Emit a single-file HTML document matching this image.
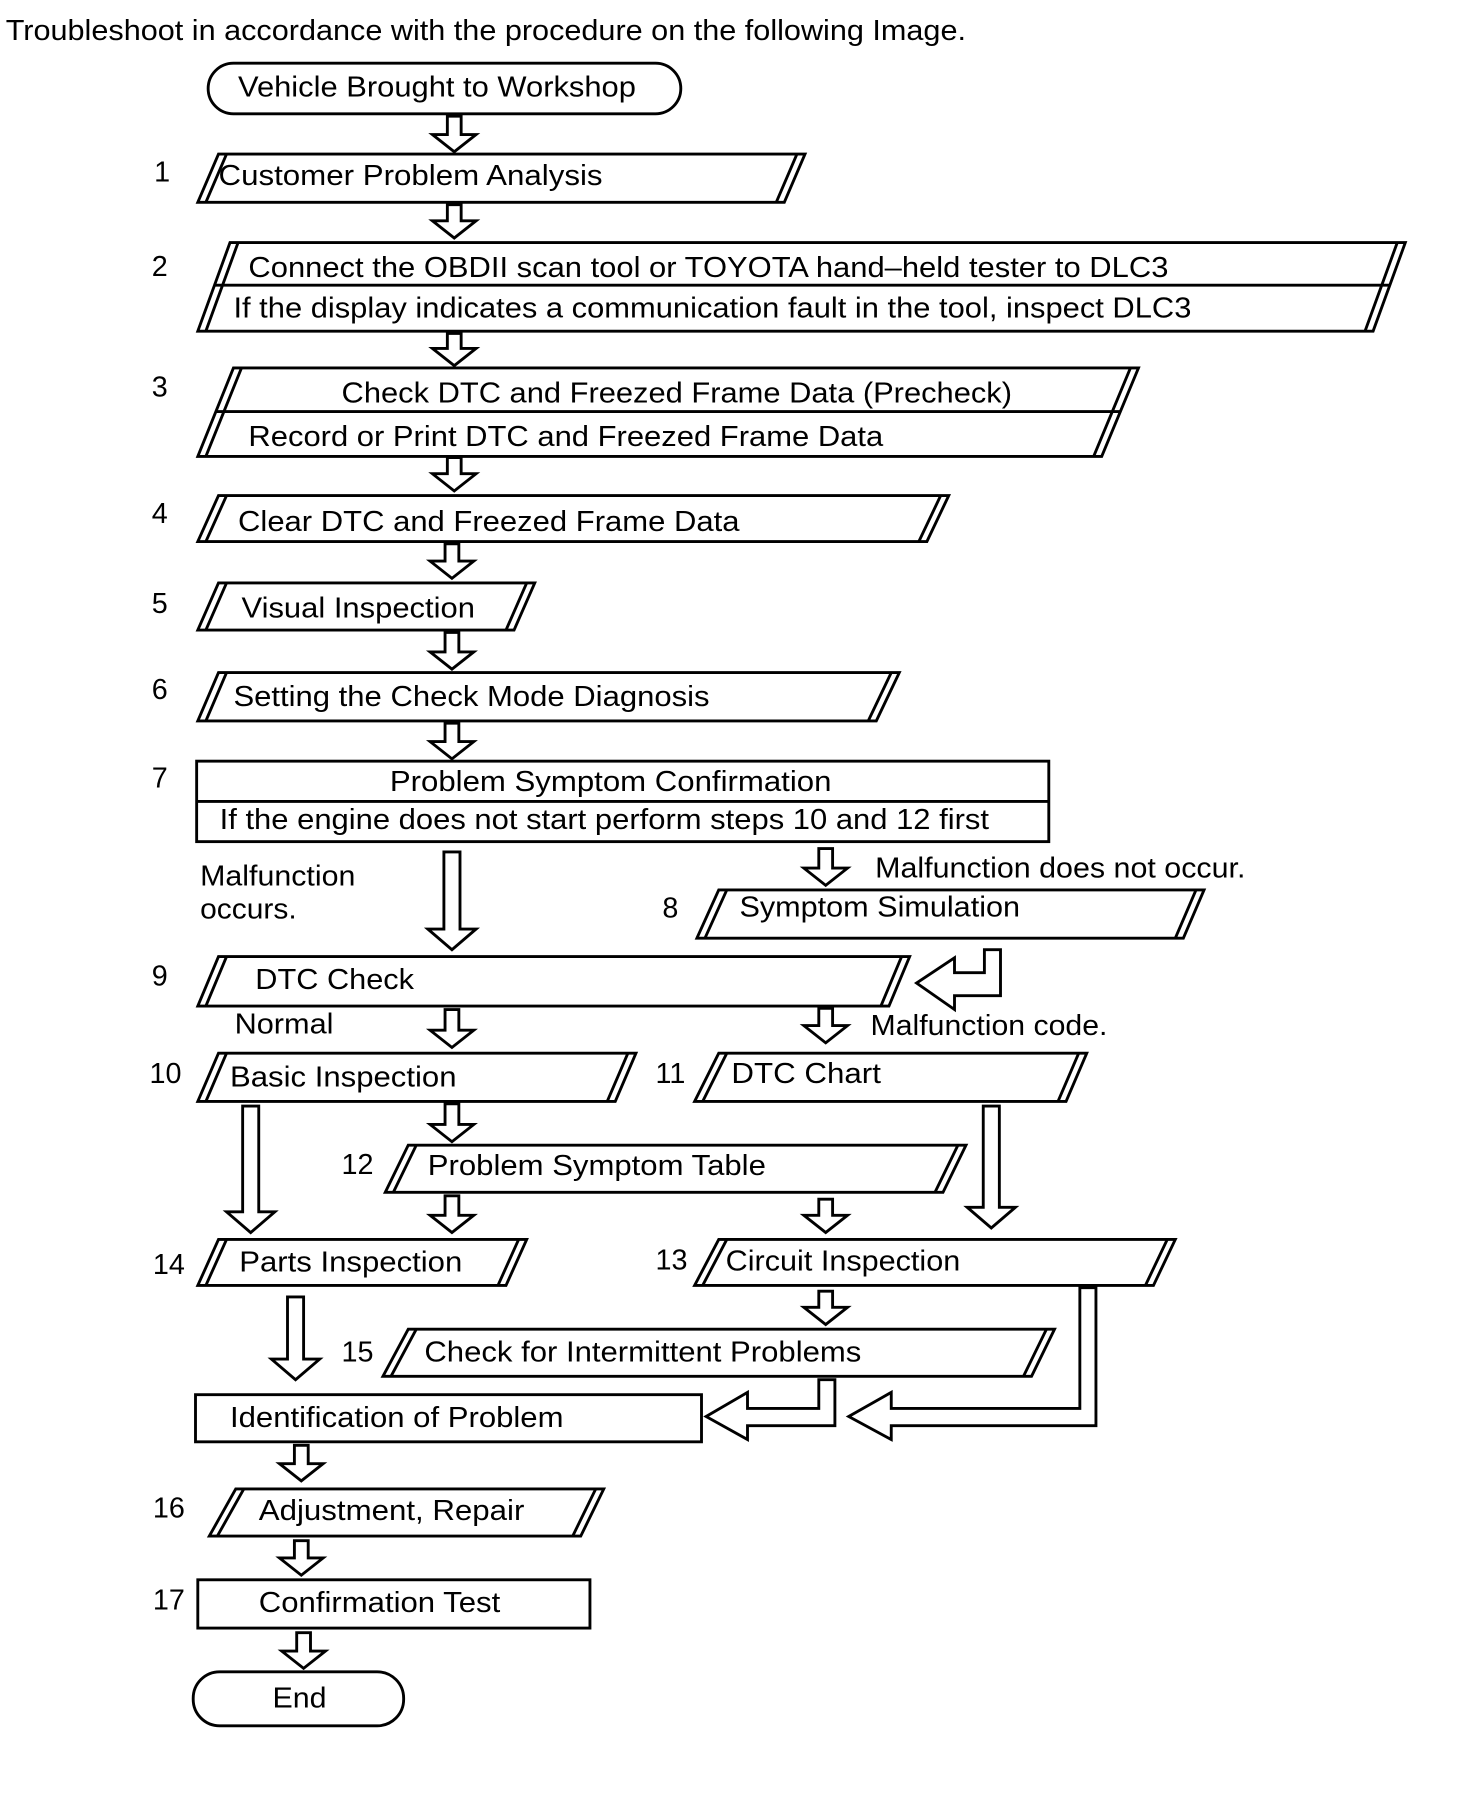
<!DOCTYPE html>
<html><head><meta charset="utf-8"><style>
html,body{margin:0;padding:0;background:#fff}
svg{display:block}
text{font-family:"Liberation Sans",sans-serif;font-size:25px;fill:#000}
</style></head><body>
<svg width="1472" height="1804" viewBox="0 0 1280 1569" preserveAspectRatio="none">
<g fill="#fff" stroke="#000" stroke-width="2.5" stroke-linejoin="miter">
<text x="5" y="35" textLength="835" lengthAdjust="spacingAndGlyphs" stroke="none">Troubleshoot in accordance with the procedure on the following Image.</text>

<rect x="181" y="55" width="411" height="44" rx="22"/>
<text x="207" y="84" textLength="346" lengthAdjust="spacingAndGlyphs" stroke="none">Vehicle Brought to Workshop</text>

<!-- arrows -->
<path d="M389,101H401V117H414L395,132L376,117H389Z"/>
<path d="M389,178H401V192H414L395,207L376,192H389Z"/>
<path d="M389,290H401V303H414L395,318L376,303H389Z"/>
<path d="M389,398H401V412H414L395,427L376,412H389Z"/>
<path d="M387,473H399V488H412L393,503L374,488H387Z"/>
<path d="M387,550H399V567H412L393,582L374,567H387Z"/>
<path d="M387,629H399V645H412L393,660L374,645H387Z"/>
<path d="M386,741H400V808H414L393,826L372,808H386Z"/>
<path d="M712,738H724V755H737L718,770L699,755H712Z"/>
<path d="M387,878H399V896H412L393,911L374,896H387Z"/>
<path d="M712,877H724V892H737L718,907L699,892H712Z"/>
<path d="M211,962H225V1054H239L218,1072L197,1054H211Z"/>
<path d="M387,960H399V978H412L393,993L374,978H387Z"/>
<path d="M855,962H869V1050H883L862,1068L841,1050H855Z"/>
<path d="M387,1040H399V1057H412L393,1072L374,1057H387Z"/>
<path d="M712,1043H724V1057H737L718,1072L699,1057H712Z"/>
<path d="M250,1128H264V1182H278L257,1200L236,1182H250Z"/>
<path d="M712,1123H724V1137H737L718,1152L699,1137H712Z"/>
<path d="M256,1257H268V1273H281L262,1288L243,1273H256Z"/>
<path d="M256,1340H268V1355H281L262,1370L243,1355H256Z"/>
<path d="M258,1420H270V1436H283L264,1451L245,1436H258Z"/>
<!-- L arrows -->
<path d="M856,826H870V866H830V878L797,855L830,833V846H856Z"/>
<path d="M712,1200H726V1240H650V1252L614,1232L650,1211V1225H712Z"/>
<path d="M939,1120H953V1240H775V1252L738,1232L775,1211V1225H939Z"/>

<!-- box1 -->
<polygon points="190,134 700,134 682,176 172,176"/><path d="M197,134L179,176M693,134L675,176" fill="none"/>
<text x="134" y="158" stroke="none">1</text>
<text x="190" y="161" textLength="334" lengthAdjust="spacingAndGlyphs" stroke="none">Customer Problem Analysis</text>
<!-- box2 -->
<polygon points="200,211 1222,211 1194,288 172,288"/><path d="M207,211L179,288M1215,211L1187,288M186,248H1208" fill="none"/>
<text x="132" y="240" stroke="none">2</text>
<text x="216" y="241" textLength="800" lengthAdjust="spacingAndGlyphs" stroke="none">Connect the OBDII scan tool or TOYOTA hand–held tester to DLC3</text>
<text x="203" y="276" textLength="833" lengthAdjust="spacingAndGlyphs" stroke="none">If the display indicates a communication fault in the tool, inspect DLC3</text>
<!-- box3 -->
<polygon points="203,320 990,320 958,397 172,397"/><path d="M210,320L179,397M983,320L951,397M188,358H974" fill="none"/>
<text x="132" y="345" stroke="none">3</text>
<text x="297" y="350" textLength="583" lengthAdjust="spacingAndGlyphs" stroke="none">Check DTC and Freezed Frame Data (Precheck)</text>
<text x="216" y="388" textLength="552" lengthAdjust="spacingAndGlyphs" stroke="none">Record or Print DTC and Freezed Frame Data</text>
<!-- box4 -->
<polygon points="190,431 825,431 806,471 172,471"/><path d="M197,431L179,471M818,431L799,471" fill="none"/>
<text x="132" y="455" stroke="none">4</text>
<text x="207" y="462" textLength="436" lengthAdjust="spacingAndGlyphs" stroke="none">Clear DTC and Freezed Frame Data</text>
<!-- box5 -->
<polygon points="190,507 465,507 447,548 172,548"/><path d="M197,507L179,548M458,507L440,548" fill="none"/>
<text x="132" y="533" stroke="none">5</text>
<text x="210" y="537" textLength="203" lengthAdjust="spacingAndGlyphs" stroke="none">Visual Inspection</text>
<!-- box6 -->
<polygon points="190,585 782,585 762,627 172,627"/><path d="M197,585L179,627M775,585L755,627" fill="none"/>
<text x="132" y="608" stroke="none">6</text>
<text x="203" y="614" textLength="414" lengthAdjust="spacingAndGlyphs" stroke="none">Setting the Check Mode Diagnosis</text>
<!-- box7 -->
<rect x="171" y="662" width="741" height="70"/><path d="M171,697H912" fill="none"/>
<text x="132" y="685" stroke="none">7</text>
<text x="339" y="688" textLength="384" lengthAdjust="spacingAndGlyphs" stroke="none">Problem Symptom Confirmation</text>
<text x="191" y="721" textLength="669" lengthAdjust="spacingAndGlyphs" stroke="none">If the engine does not start perform steps 10 and 12 first</text>
<text x="174" y="770" textLength="135" lengthAdjust="spacingAndGlyphs" stroke="none">Malfunction</text>
<text x="174" y="799" textLength="84" lengthAdjust="spacingAndGlyphs" stroke="none">occurs.</text>
<text x="761" y="763" textLength="322" lengthAdjust="spacingAndGlyphs" stroke="none">Malfunction does not occur.</text>
<!-- box8 -->
<polygon points="625,774 1047,774 1029,816 606,816"/><path d="M632,774L613,816M1040,774L1022,816" fill="none"/>
<text x="576" y="798" stroke="none">8</text>
<text x="643" y="797" textLength="244" lengthAdjust="spacingAndGlyphs" stroke="none">Symptom Simulation</text>
<!-- box9 -->
<polygon points="190,832 791,832 773,875 172,875"/><path d="M197,832L179,875M784,832L766,875" fill="none"/>
<text x="132" y="857" stroke="none">9</text>
<text x="222" y="860" textLength="138" lengthAdjust="spacingAndGlyphs" stroke="none">DTC Check</text>
<text x="204" y="899" textLength="86" lengthAdjust="spacingAndGlyphs" stroke="none">Normal</text>
<text x="757" y="900" textLength="206" lengthAdjust="spacingAndGlyphs" stroke="none">Malfunction code.</text>
<!-- box10 -->
<polygon points="190,916 553,916 535,958 172,958"/><path d="M197,916L179,958M546,916L528,958" fill="none"/>
<text x="130" y="942" stroke="none">10</text>
<text x="200" y="945" textLength="197" lengthAdjust="spacingAndGlyphs" stroke="none">Basic Inspection</text>
<!-- box11 -->
<polygon points="625,916 945,916 927,958 604,958"/><path d="M632,916L611,958M938,916L920,958" fill="none"/>
<text x="570" y="942" stroke="none">11</text>
<text x="636" y="942" textLength="130" lengthAdjust="spacingAndGlyphs" stroke="none">DTC Chart</text>
<!-- box12 -->
<polygon points="355,996 840,996 820,1037 335,1037"/><path d="M362,996L342,1037M833,996L813,1037" fill="none"/>
<text x="297" y="1021" stroke="none">12</text>
<text x="372" y="1022" textLength="294" lengthAdjust="spacingAndGlyphs" stroke="none">Problem Symptom Table</text>
<!-- box14 -->
<polygon points="190,1078 458,1078 440,1118 172,1118"/><path d="M197,1078L179,1118M451,1078L433,1118" fill="none"/>
<text x="133" y="1108" stroke="none">14</text>
<text x="208" y="1106" textLength="194" lengthAdjust="spacingAndGlyphs" stroke="none">Parts Inspection</text>
<!-- box13 -->
<polygon points="625,1078 1022,1078 1003,1118 604,1118"/><path d="M632,1078L611,1118M1015,1078L996,1118" fill="none"/>
<text x="570" y="1104" stroke="none">13</text>
<text x="631" y="1105" textLength="204" lengthAdjust="spacingAndGlyphs" stroke="none">Circuit Inspection</text>
<!-- box15 -->
<polygon points="355,1156 917,1156 897,1197 333,1197"/><path d="M362,1156L340,1197M910,1156L890,1197" fill="none"/>
<text x="297" y="1184" stroke="none">15</text>
<text x="369" y="1184" textLength="380" lengthAdjust="spacingAndGlyphs" stroke="none">Check for Intermittent Problems</text>
<!-- identification -->
<rect x="170" y="1213" width="440" height="41"/>
<text x="200" y="1241" textLength="290" lengthAdjust="spacingAndGlyphs" stroke="none">Identification of Problem</text>
<!-- box16 -->
<polygon points="205,1295 525,1295 505,1336 182,1336"/><path d="M212,1295L189,1336M518,1295L498,1336" fill="none"/>
<text x="133" y="1320" stroke="none">16</text>
<text x="225" y="1322" textLength="231" lengthAdjust="spacingAndGlyphs" stroke="none">Adjustment, Repair</text>
<!-- box17 -->
<rect x="172" y="1374" width="341" height="42"/>
<text x="133" y="1400" stroke="none">17</text>
<text x="225" y="1402" textLength="210" lengthAdjust="spacingAndGlyphs" stroke="none">Confirmation Test</text>
<!-- end -->
<rect x="168" y="1454" width="183" height="47" rx="23"/>
<text x="237" y="1485" textLength="47" lengthAdjust="spacingAndGlyphs" stroke="none">End</text>
</g>
</svg>
</body></html>
